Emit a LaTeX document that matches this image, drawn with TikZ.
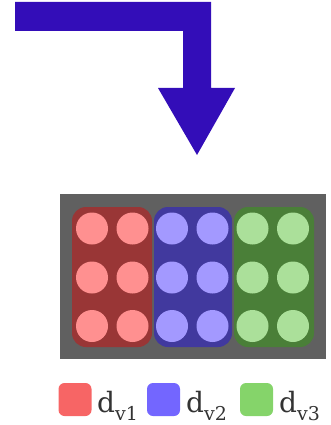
\documentclass[tikz,border=0pt]{standalone}
\usepackage{fontspec}
\setmainfont{DejaVu Serif}
\definecolor{arrowc}{HTML}{330DB8}
\definecolor{bgc}{HTML}{606060}
\definecolor{redbox}{HTML}{993636}
\definecolor{bluebox}{HTML}{41399E}
\definecolor{greenbox}{HTML}{4A7F38}
\definecolor{redc}{HTML}{FF9090}
\definecolor{bluec}{HTML}{A399FF}
\definecolor{greenc}{HTML}{ABE09A}
\definecolor{redl}{HTML}{F76565}
\definecolor{bluel}{HTML}{7366FF}
\definecolor{greenl}{HTML}{85D46A}
\definecolor{textc}{HTML}{333333}
\newcommand{\legsub}[1]{\raisebox{-8pt}{\fontsize{19}{21}\selectfont #1}}
\tikzset{
  groupbox/.style={rounded corners=14pt},
  dot/.style={circle, minimum size=32pt, inner sep=0pt},
  legendsq/.style={rounded corners=6pt, minimum size=33pt, inner sep=0pt},
  legendtxt/.style={text=textc, font=\fontsize{28}{30}\selectfont, anchor=base west, inner sep=0pt}
}
\begin{document}
\begin{tikzpicture}[x=1pt,y=-1pt]
\useasboundingbox (0,0) rectangle (331,425);
% arrow
\fill[arrowc] (15,2) -- (211,2) -- (211,88) -- (235,88) -- (197,155) -- (158,88) -- (183,88) -- (183,31) -- (15,31) -- cycle;
% background
\fill[bgc] (60,194) rectangle (326,359);
% group boxes
\fill[redbox, groupbox] (72,207) rectangle (152,347);
\fill[bluebox, groupbox] (154,207) rectangle (232,347);
\fill[greenbox, groupbox] (234,207) rectangle (314,347);
% dots
\foreach \y [count=\r] in {228.5,277.5,326} {
  \node[dot, fill=redc] (r\r a) at (92,\y) {};
  \node[dot, fill=redc] (r\r b) at (132.5,\y) {};
  \node[dot, fill=bluec] (b\r a) at (172,\y) {};
  \node[dot, fill=bluec] (b\r b) at (212.5,\y) {};
  \node[dot, fill=greenc] (g\r a) at (252.5,\y) {};
  \node[dot, fill=greenc] (g\r b) at (293,\y) {};
}
% legend
\node[legendsq, fill=redl] (l1) at (75,399.5) {};
\node[legendtxt] (t1) at (97,412) {d\legsub{v1}};
\node[legendsq, fill=bluel] (l2) at (163.5,399.5) {};
\node[legendtxt] (t2) at (186,412) {d\legsub{v2}};
\node[legendsq, fill=greenl] (l3) at (256.5,399.5) {};
\node[legendtxt] (t3) at (279,412) {d\legsub{v3}};
\end{tikzpicture}
\end{document}
